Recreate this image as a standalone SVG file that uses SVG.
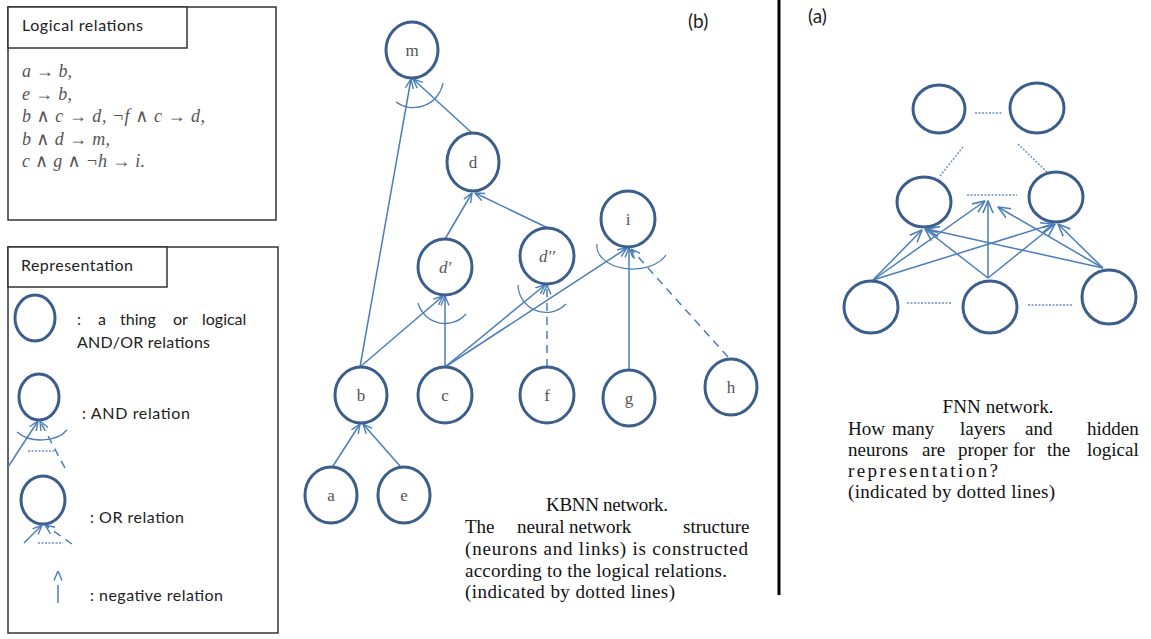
<svg xmlns="http://www.w3.org/2000/svg" width="1151" height="639" viewBox="0 0 1151 639">
<defs>
<style>
.node{fill:none;stroke:#3b5e8c;stroke-width:3}
.lbl{font-family:"Liberation Serif","DejaVu Serif",serif;font-size:17px;fill:#555;text-anchor:middle}
.it{font-style:italic}
.edge{stroke:#4a7ebb;stroke-width:1.5;fill:none}
.dash{stroke-dasharray:8 6}
.dot{fill:none;stroke:#7093c4;stroke-width:1.5;stroke-dasharray:2 1.5}
.arc{fill:none;stroke:#4a7ebb;stroke-width:1.3}
.box{fill:#fff;stroke:#333;stroke-width:1.5}
.sans{font-family:Lato,"Liberation Sans",sans-serif;fill:#222}
.math{font-family:"Liberation Serif","DejaVu Serif",serif;font-style:italic;font-size:18px;fill:#555}
.para{font-family:"Liberation Serif","DejaVu Serif",serif;font-size:19px;fill:#111}
</style>
<marker id="ah" viewBox="0 0 10 10" refX="9.5" refY="5" markerWidth="10" markerHeight="10" markerUnits="userSpaceOnUse" orient="auto">
<path d="M0,1 L9.5,5 L0,9" fill="none" stroke="#4a7ebb" stroke-width="1.4"/>
</marker>
<marker id="ahl" viewBox="0 0 10 10" refX="9.5" refY="5" markerWidth="13" markerHeight="13" markerUnits="userSpaceOnUse" orient="auto">
<path d="M0,1 L9.5,5 L0,9" fill="none" stroke="#4a7ebb" stroke-width="1.2"/>
</marker>
</defs>
<rect width="1151" height="639" fill="#fff"/>

<!-- Logical relations box -->
<g id="logical-relations">
<rect class="box" x="8" y="7" width="268" height="213"/>
<rect class="box" x="8" y="7" width="179" height="41"/>
<text class="sans" x="22" y="31" font-size="16" textLength="121">Logical relations</text>
<text class="math" x="22" y="77" textLength="50">a → b,</text>
<text class="math" x="22" y="100" textLength="50">e → b,</text>
<text class="math" x="22" y="122" textLength="183">b ∧ c → d,  ¬f ∧ c → d,</text>
<text class="math" x="22" y="145" textLength="88">b ∧ d → m,</text>
<text class="math" x="22" y="167" textLength="123">c ∧ g ∧ ¬h → i.</text>
</g>

<!-- Representation legend -->
<g id="legend">
<rect class="box" x="8" y="247" width="270" height="386"/>
<rect class="box" x="8" y="247" width="159" height="40"/>
<text class="sans" x="21" y="271" font-size="16" textLength="112">Representation</text>
<g id="legend-thing">
<ellipse class="node" cx="35" cy="318" rx="20" ry="23"/>
<text class="sans" font-size="16" y="325"><tspan x="77">:</tspan><tspan x="98">a</tspan><tspan x="120">thing</tspan><tspan x="173">or</tspan><tspan x="202">logical</tspan></text>
<text class="sans" font-size="16" x="77" y="348" textLength="133">AND/OR relations</text>
</g>
<g id="legend-and">
<ellipse class="node" cx="39" cy="397" rx="20" ry="23"/>
<line class="edge" x1="8" y1="467" x2="38" y2="421" marker-end="url(#ah)"/>
<line class="edge dash" x1="65" y1="468" x2="40" y2="421" marker-end="url(#ah)"/>
<path class="arc" d="M17,432 A30,20 0 0 0 67,430"/>
<line class="dot" x1="28" y1="451" x2="55" y2="451"/>
<text class="sans" font-size="16" x="82" y="419" textLength="108">: AND relation</text>
</g>
<g id="legend-or">
<ellipse class="node" cx="43" cy="500" rx="22" ry="24"/>
<line class="edge" x1="24" y1="543" x2="42" y2="525" marker-end="url(#ah)"/>
<line class="edge dash" x1="72" y1="544" x2="45" y2="525" marker-end="url(#ah)"/>
<line class="dot" x1="38" y1="543" x2="63" y2="543"/>
<text class="sans" font-size="16" x="90" y="523" textLength="94">: OR relation</text>
</g>
<g id="legend-negative">
<line class="edge" x1="58" y1="603" x2="58" y2="571" stroke-dasharray="18 12" marker-end="url(#ah)"/>
<text class="sans" font-size="16" x="90" y="601" textLength="133">: negative relation</text>
</g>
</g>

<!-- panel labels and divider -->
<text class="sans" x="688" y="28" font-size="19">(b)</text>
<text class="sans" x="808" y="23" font-size="19">(a)</text>
<line x1="779" y1="0" x2="779" y2="595" stroke="#000" stroke-width="3"/>

<!-- KBNN connectors -->
<g id="kbnn-connectors">
<line class="edge" x1="333" y1="466" x2="360" y2="424" marker-end="url(#ah)"/>
<line class="edge" x1="400" y1="466" x2="363" y2="424" marker-end="url(#ah)"/>
<line class="edge" x1="360" y1="367" x2="411" y2="79" marker-end="url(#ah)"/>
<line class="edge" x1="472" y1="133" x2="413" y2="79" marker-end="url(#ah)"/>
<path class="arc" d="M396,102 A30,30 0 0 0 443,83"/>
<line class="edge" x1="360" y1="367" x2="443" y2="296" marker-end="url(#ah)"/>
<line class="edge" x1="445" y1="367" x2="445" y2="296" marker-end="url(#ah)"/>
<path class="arc" d="M418,303 A28,28 0 0 0 466,314"/>
<line class="edge" x1="445" y1="239" x2="472" y2="193" marker-end="url(#ah)"/>
<line class="edge" x1="548" y1="228" x2="475" y2="193" marker-end="url(#ah)"/>
<line class="edge" x1="445" y1="367" x2="545" y2="285" marker-end="url(#ah)"/>
<line class="edge dash" x1="547" y1="367" x2="547" y2="285" marker-end="url(#ah)"/>
<path class="arc" d="M518,285 A28,28 0 0 0 566,304"/>
<line class="edge" x1="445" y1="367" x2="627" y2="248" marker-end="url(#ah)"/>
<line class="edge" x1="629" y1="370" x2="629" y2="248" marker-end="url(#ah)"/>
<line class="edge dash" x1="728" y1="357" x2="631" y2="249" marker-end="url(#ah)"/>
<path class="arc" d="M597,244 A36,23 0 0 0 666,255"/>
</g>

<!-- KBNN nodes -->
<g id="node-m"><ellipse class="node" cx="412" cy="50" rx="26" ry="28"/><text class="lbl" x="412" y="56">m</text></g>
<g id="node-d"><ellipse class="node" cx="473" cy="162" rx="26" ry="29"/><text class="lbl" x="473" y="168">d</text></g>
<g id="node-d1"><ellipse class="node" cx="445" cy="267" rx="27" ry="28"/><text class="lbl it" x="445" y="273">d′</text></g>
<g id="node-d2"><ellipse class="node" cx="547" cy="256" rx="27" ry="28"/><text class="lbl it" x="547" y="262">d′′</text></g>
<g id="node-i"><ellipse class="node" cx="628" cy="219" rx="27" ry="28"/><text class="lbl" x="628" y="225">i</text></g>
<g id="node-b"><ellipse class="node" cx="361" cy="395" rx="26" ry="28"/><text class="lbl" x="361" y="401">b</text></g>
<g id="node-c"><ellipse class="node" cx="445" cy="395" rx="27" ry="28"/><text class="lbl" x="445" y="401">c</text></g>
<g id="node-f"><ellipse class="node" cx="547" cy="395" rx="27" ry="28"/><text class="lbl" x="547" y="401">f</text></g>
<g id="node-g"><ellipse class="node" cx="629" cy="398" rx="26" ry="28"/><text class="lbl" x="629" y="404">g</text></g>
<g id="node-h"><ellipse class="node" cx="731" cy="387" rx="26" ry="28"/><text class="lbl" x="731" y="393">h</text></g>
<g id="node-a"><ellipse class="node" cx="331" cy="495" rx="26" ry="28"/><text class="lbl" x="331" y="501">a</text></g>
<g id="node-e"><ellipse class="node" cx="404" cy="495" rx="26" ry="28"/><text class="lbl" x="404" y="501">e</text></g>

<!-- KBNN caption -->
<g id="kbnn-caption">
<text class="para" x="607" y="511" text-anchor="middle" textLength="122">KBNN network.</text>
<text class="para" y="533"><tspan x="465">The</tspan><tspan x="517">neural</tspan><tspan x="569">network</tspan><tspan x="683">structure</tspan></text>
<text class="para" x="465" y="555" textLength="283">(neurons and links) is constructed</text>
<text class="para" x="465" y="577" textLength="262">according to the logical relations.</text>
<text class="para" x="465" y="598" textLength="210">(indicated by dotted lines)</text>
</g>

<!-- FNN connectors -->
<g id="fnn-connectors">
<line class="dot" x1="975" y1="113" x2="1003" y2="113"/>
<line class="dot" x1="940" y1="176" x2="963" y2="147"/>
<line class="dot" x1="1018" y1="144" x2="1047" y2="172"/>
<line class="dot" x1="967" y1="195" x2="1017" y2="195"/>
<line class="dot" x1="907" y1="303" x2="952" y2="303"/>
<line class="dot" x1="1028" y1="305" x2="1073" y2="305"/>
<line class="edge" x1="873" y1="280" x2="922" y2="230" marker-end="url(#ahl)"/>
<line class="edge" x1="873" y1="280" x2="985" y2="201" marker-end="url(#ahl)"/>
<line class="edge" x1="873" y1="280" x2="1053" y2="224" marker-end="url(#ahl)"/>
<line class="edge" x1="988" y1="278" x2="925" y2="229" marker-end="url(#ahl)"/>
<line class="edge" x1="988" y1="278" x2="988" y2="201" marker-end="url(#ahl)"/>
<line class="edge" x1="988" y1="278" x2="1055" y2="224" marker-end="url(#ahl)"/>
<line class="edge" x1="1103" y1="268" x2="927" y2="229" marker-end="url(#ahl)"/>
<line class="edge" x1="1103" y1="268" x2="998" y2="207" marker-end="url(#ahl)"/>
<line class="edge" x1="1103" y1="268" x2="1058" y2="224" marker-end="url(#ahl)"/>
</g>

<!-- FNN nodes -->
<g id="fnn-out-1"><ellipse class="node" cx="939" cy="109" rx="26" ry="24"/></g>
<g id="fnn-out-2"><ellipse class="node" cx="1037" cy="108" rx="27" ry="25"/></g>
<g id="fnn-hid-1"><ellipse class="node" cx="924" cy="202" rx="27" ry="25"/></g>
<g id="fnn-hid-2"><ellipse class="node" cx="1056" cy="197" rx="27" ry="25"/></g>
<g id="fnn-in-1"><ellipse class="node" cx="871" cy="307" rx="27" ry="26"/></g>
<g id="fnn-in-2"><ellipse class="node" cx="990" cy="307" rx="27" ry="26"/></g>
<g id="fnn-in-3"><ellipse class="node" cx="1109" cy="297" rx="27" ry="27"/></g>

<!-- FNN caption -->
<g id="fnn-caption">
<text class="para" x="998" y="413" text-anchor="middle" textLength="111">FNN network.</text>
<text class="para" y="435"><tspan x="848">How</tspan><tspan x="892">many</tspan><tspan x="960">layers</tspan><tspan x="1025">and</tspan><tspan x="1087">hidden</tspan></text>
<text class="para" y="456"><tspan x="848">neurons</tspan><tspan x="922">are</tspan><tspan x="958">proper</tspan><tspan x="1013">for</tspan><tspan x="1047">the</tspan><tspan x="1087">logical</tspan></text>
<text class="para" x="848" y="477" textLength="150">representation?</text>
<text class="para" x="848" y="498" textLength="207">(indicated by dotted lines)</text>
</g>
</svg>
